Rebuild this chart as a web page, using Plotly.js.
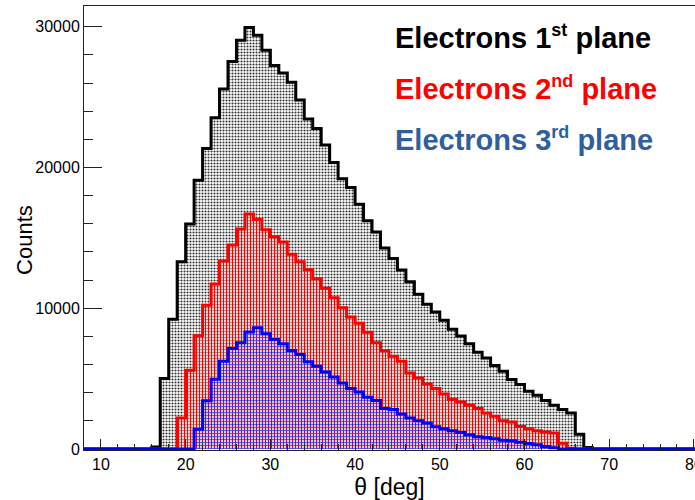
<!DOCTYPE html>
<html>
<head>
<meta charset="utf-8">
<script src="https://cdn.plot.ly/plotly-3.0.1.min.js"></script>
<style>html,body{margin:0;padding:0;background:#fff;overflow:hidden;}</style>
</head>
<body>
<div id="chart" style="width:695px;height:500px;"></div>
<script>
// Histogram data: 1-degree bins, first bin low edge given for each plane
const binWidth = 1;
const histLow = 0, histHigh = 90;

const plane1First = 16;
const plane1Counts = [150, 5000, 9210, 13310, 15980, 19100, 21350, 23530, 25570, 27520,
  29040, 29950, 29400, 28330, 27240, 26710, 26050, 24800, 23450, 22760,
  21600, 20360, 19200, 18570, 17380, 16220, 15410, 14270, 13530, 12720,
  11890, 10990, 10280, 9730, 9140, 8500, 8020, 7470, 6880, 6470,
  5930, 5520, 4930, 4580, 4100, 3810, 3440, 3100, 2800, 2550, 1050, 100];

const plane2First = 19;
const plane2Counts = [2200, 5600, 8050, 10220, 11720, 13360, 14490, 15620, 16690, 16310,
  15570, 15080, 14700, 13840, 13300, 12740, 12100, 11420, 10750, 10040,
  9380, 8930, 8300, 7540, 6980, 6590, 6240, 5400, 5050, 4620,
  4290, 3910, 3510, 3340, 3100, 2870, 2550, 2320, 2010, 1910,
  1600, 1440, 1300, 1200, 1130, 410, 60];

const plane3First = 21;
const plane3Counts = [1410, 3420, 4950, 6240, 7140, 7540, 8320, 8620, 8180, 7780,
  7470, 7000, 6710, 6190, 5880, 5470, 5120, 4690, 4290, 4050,
  3670, 3440, 2870, 2800, 2480, 2200, 2010, 1840, 1580, 1440,
  1300, 1180, 1010, 870, 820, 730, 630, 580, 480, 390, 300, 180, 80];

const legendNames = ['Electrons 1', 'Electrons 2', 'Electrons 3'];
const legendSups = ['st', 'nd', 'rd'];
const legendTail = ' plane';
const xTitle = 'θ [deg]';
const yTitle = 'Counts';

function stepXY(first, counts) {
  const x = [histLow], y = [0];
  counts.forEach((c, i) => { x.push(first + i * binWidth); y.push(c); });
  x.push(first + counts.length * binWidth); y.push(0);
  x.push(histHigh); y.push(0);
  return {x, y};
}

const s1 = stepXY(plane1First, plane1Counts);
const s2 = stepXY(plane2First, plane2Counts);
const s3 = stepXY(plane3First, plane3Counts);

const traces = [
  {x: s1.x, y: s1.y, type: 'scatter', mode: 'lines', line: {shape: 'hv', color: '#000000', width: 3},
   fill: 'tozeroy', fillcolor: 'rgba(0,0,0,0)',
   fillpattern: {shape: '.', fgcolor: '#333333', bgcolor: '#ffffff', size: 3, solidity: 0.4}, hoverinfo: 'skip'},
  {x: s2.x, y: s2.y, type: 'scatter', mode: 'lines', line: {shape: 'hv', color: '#ff0000', width: 3},
   fill: 'tozeroy', fillcolor: 'rgba(0,0,0,0)',
   fillpattern: {shape: '|', fgcolor: '#ff0000', bgcolor: 'rgba(0,0,0,0)', size: 3, solidity: 0.4}, hoverinfo: 'skip'},
  {x: s3.x, y: s3.y, type: 'scatter', mode: 'lines', line: {shape: 'hv', color: '#0000ff', width: 3},
   fill: 'tozeroy', fillcolor: 'rgba(0,0,0,0)',
   fillpattern: {shape: '.', fgcolor: '#2222ff', bgcolor: 'rgba(0,0,0,0)', size: 3, solidity: 0.35}, hoverinfo: 'skip'}
];

const legendColors = ['#000000', '#ff0000', '#2f5f9f'];
const legendY = [0.930, 0.815, 0.700];
const annotations = legendNames.map((t, i) => ({
  text: '<b>' + t + '<sup><span style="font-size:18px">' + legendSups[i] + '</span></sup>' + legendTail + '</b>',
  xref: 'paper', yref: 'paper', x: 0.506, y: legendY[i],
  xanchor: 'left', yanchor: 'middle', showarrow: false,
  font: {family: 'Liberation Sans, Arial, sans-serif', size: 29, color: legendColors[i]}
}));
annotations.push({
  text: yTitle, xref: 'paper', yref: 'paper', x: -0.0966, y: 0.473,
  xanchor: 'center', yanchor: 'middle', textangle: -90, showarrow: false,
  font: {family: 'Liberation Sans, Arial, sans-serif', size: 22, color: '#000'}
});

const layout = {
  width: 695, height: 500,
  margin: {l: 84, r: 0, t: 6, b: 50},
  paper_bgcolor: '#ffffff', plot_bgcolor: '#ffffff',
  showlegend: false,
  font: {family: 'Liberation Sans, Arial, sans-serif', color: '#000'},
  xaxis: {
    range: [8, 80.13], showgrid: false, zeroline: false,
    showline: true, linecolor: '#222', linewidth: 1, mirror: true,
    tick0: 0, dtick: 10, ticks: 'inside', ticklen: 11, tickwidth: 1, tickcolor: '#222',
    minor: {dtick: 2, ticks: 'inside', ticklen: 6, tickwidth: 1, tickcolor: '#222'},
    ticklabeloverflow: 'allow',
    tickfont: {size: 16, color: '#000'},
    title: {text: xTitle, font: {size: 23, color: '#000'}, standoff: 8}
  },
  yaxis: {
    range: [-71, 31470], showgrid: false, zeroline: false,
    showline: true, linecolor: '#222', linewidth: 1, mirror: true,
    tick0: 0, dtick: 10000, ticks: 'inside', ticklen: 18, tickwidth: 1, tickcolor: '#222',
    minor: {dtick: 2000, ticks: 'inside', ticklen: 9, tickwidth: 1, tickcolor: '#222'},
    tickformat: 'd', tickfont: {size: 16, color: '#000'}
  },
  annotations: annotations
};

Plotly.newPlot('chart', traces, layout, {staticPlot: true, displayModeBar: false});
</script>
</body>
</html>
